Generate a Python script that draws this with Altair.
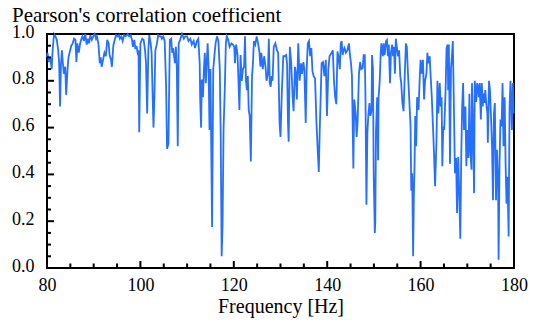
import altair as alt
import pandas as pd

TITLE = "Pearson's correlation coefficient"
X_TITLE = "Frequency [Hz]"
FONT = "Liberation Serif"
LINE_COLOR = "#2670ff"

x_ticks = [80, 100, 120, 140, 160, 180]
y_ticks = [0.0, 0.2, 0.4, 0.6, 0.8, 1.0]
x_minor = [85, 90, 95, 105, 110, 115, 125, 130, 135, 145, 150, 155, 165, 170, 175]
y_minor = [0.05, 0.1, 0.15, 0.25, 0.3, 0.35, 0.45, 0.5, 0.55, 0.65, 0.7, 0.75, 0.85, 0.9, 0.95]

# 80-100 Hz
f1 = [80.0, 80.1, 80.4, 80.7, 81.0, 81.2, 81.5, 81.8, 82.1, 82.4, 82.6, 82.8, 83.0, 83.2, 83.4, 83.6,
      83.9, 84.1, 84.4, 84.6, 84.9, 85.2, 85.5, 85.8, 86.1, 86.3, 86.5, 86.8, 87.1, 87.3, 87.6, 87.9,
      88.2, 88.5, 88.8, 89.0, 89.3, 89.6, 89.9, 90.2, 90.5, 90.7, 91.0, 91.3, 91.5, 91.7, 92.0, 92.3,
      92.6, 92.9, 93.2, 93.4, 93.7, 93.9, 94.2, 94.5, 94.8, 95.1, 95.4, 95.6, 95.9, 96.2, 96.5, 96.8,
      97.1, 97.3, 97.6, 97.9, 98.2, 98.4, 98.7, 98.9, 99.2, 99.4, 99.6, 99.75]
r1 = [0.90, 0.92, 0.88, 0.90, 0.85, 0.93, 1.0, 0.99, 0.975, 0.93, 0.875, 0.69, 0.875, 0.93, 0.875, 0.83,
      0.86, 0.74, 0.85, 0.90, 0.925, 0.95, 0.96, 0.98, 0.975, 0.88, 0.96, 0.92, 0.96, 0.975, 0.99, 0.97,
      1.0, 0.955, 0.98, 0.96, 0.995, 0.975, 0.99, 1.0, 0.98, 0.99, 0.96, 0.875, 0.90, 0.86, 0.89, 0.92,
      0.905, 0.975, 0.96, 0.91, 0.89, 0.86, 0.95, 0.975, 0.995, 0.99, 0.995, 0.98, 0.99, 0.97, 0.995, 0.99,
      0.995, 1.0, 0.99, 0.995, 0.975, 0.945, 0.975, 0.94, 0.945, 0.92, 0.93, 0.58]

# 100-120 Hz
f2 = [100.0, 100.4, 100.7, 101.0, 101.2, 101.45, 101.7, 101.9, 102.2, 102.4, 102.6, 102.8, 103.0, 103.2,
      103.5, 103.8, 104.1, 104.4, 104.6, 104.9, 105.2, 105.5, 105.7, 106.0, 106.3, 106.6, 106.8, 107.0,
      107.2, 107.4, 107.6, 107.8, 108.0, 108.2, 108.5, 108.9, 109.3, 109.6, 110.0, 110.3, 110.7, 111.0,
      111.4, 111.7, 112.1, 112.4, 112.7, 112.8, 113.0, 113.15, 113.4, 113.6, 113.8, 114.0, 114.2, 114.4,
      114.6, 114.8, 115.0, 115.15, 115.35, 115.6, 115.9, 116.1, 116.4, 116.7, 117.0, 117.2, 117.4, 117.6,
      117.8, 118.05, 118.3, 118.5, 118.8, 119.1, 119.5, 119.8]
r2 = [0.96, 0.98, 0.975, 0.93, 0.875, 0.66, 0.93, 0.995, 0.96, 0.92, 0.75, 0.60, 0.73, 0.93,
      0.955, 0.995, 0.99, 0.99, 0.98, 0.99, 0.97, 0.78, 0.51, 0.53, 0.975, 0.98, 0.92, 0.94,
      0.905, 0.875, 0.945, 0.85, 0.52, 0.96, 0.975, 1.0, 0.98, 0.99, 0.99, 0.97, 0.98, 0.955,
      0.97, 0.94, 0.97, 0.98, 0.875, 0.72, 0.60, 0.805, 0.73, 0.85, 0.92, 0.79, 0.875, 0.96,
      0.86, 0.59, 0.85, 0.555, 0.175, 0.85, 0.92, 0.96, 0.99, 0.97, 0.85, 0.56, 0.05, 0.19,
      0.59, 0.75, 0.96, 0.99, 0.975, 0.945, 0.96, 0.955]

# 120-140 Hz
f3 = [120.1, 120.25, 120.5, 120.8, 121.0, 121.2, 121.45, 121.7, 121.95, 122.2, 122.4, 122.6, 122.8, 123.0,
      123.2, 123.4, 123.65, 123.9, 124.1, 124.3, 124.6, 124.9, 125.2, 125.5, 125.7, 125.9, 126.2, 126.5,
      126.8, 127.0, 127.3, 127.5, 127.7, 127.9, 128.1, 128.3, 128.55, 128.9, 129.25, 129.5, 129.8, 130.0,
      130.3, 130.6, 130.9, 131.2, 131.4, 131.6, 131.75, 132.0, 132.3, 132.6, 132.8, 133.1, 133.3, 133.5,
      133.8, 134.1, 134.4, 134.6, 134.9, 135.1, 135.4, 135.6, 135.85, 136.1, 136.35, 136.6, 136.85, 137.1,
      137.4, 137.7, 138.0, 138.2, 138.4, 138.6, 138.8, 139.1, 139.4, 139.7, 139.95]
r3 = [0.945, 0.875, 0.955, 0.91, 0.80, 0.675, 0.91, 0.80, 0.85, 0.86, 0.99, 0.80, 0.76, 0.82,
      0.675, 0.65, 0.455, 0.82, 0.875, 0.97, 0.955, 0.99, 0.96, 0.92, 0.86, 0.92, 0.85, 0.905,
      0.86, 0.80, 0.83, 0.98, 0.79, 0.775, 0.82, 0.80, 0.945, 0.96, 0.93, 0.92, 0.62, 0.56,
      0.76, 0.905, 0.905, 0.91, 0.875, 0.62, 0.54, 0.945, 0.875, 0.73, 0.67, 0.86, 0.83, 0.72,
      0.96, 0.80, 0.875, 0.83, 0.88, 0.85, 0.62, 0.85, 0.96, 0.97, 0.905, 0.94, 0.84, 0.82,
      0.81, 0.62, 0.49, 0.41, 0.59, 0.73, 0.875, 0.88, 0.82, 0.89, 0.65]

# 140-160 Hz
f4 = [140.25, 140.5, 140.95, 141.2, 141.45, 141.7, 141.95, 142.2, 142.4, 142.7, 142.9, 143.1, 143.3, 143.5,
      143.7, 144.0, 144.3, 144.65, 144.9, 145.1, 145.3, 145.45, 145.6, 145.8, 146.1, 146.3, 146.5, 146.8,
      147.05, 147.3, 147.6, 147.8, 148.05, 148.2, 148.4, 148.6, 148.8, 149.05, 149.25, 149.5, 149.6, 149.8,
      149.95, 150.2, 150.3, 150.45, 150.7, 150.9, 151.0, 151.25, 151.45, 151.6, 151.9, 152.1, 152.3, 152.6,
      152.8, 153.0, 153.2, 153.45, 153.65, 153.9, 154.1, 154.3, 154.5, 154.7, 154.9, 155.15, 155.4, 155.65,
      155.85, 156.1, 156.35, 156.55, 156.85, 157.05, 157.3, 157.55, 157.85, 158.0, 158.2, 158.4, 158.55,
      158.7, 158.85, 159.05, 159.25, 159.55, 159.85, 160.0]
r4 = [0.85, 0.905, 0.92, 0.93, 0.80, 0.73, 0.70, 0.925, 0.905, 0.85, 0.96, 0.97, 0.91, 0.93,
      0.94, 0.92, 0.93, 0.96, 0.905, 0.875, 0.82, 0.62, 0.425, 0.72, 0.66, 0.56, 0.62, 0.83,
      0.88, 0.85, 0.855, 0.91, 0.91, 0.72, 0.27, 0.575, 0.65, 0.705, 0.65, 0.675, 0.91, 0.85,
      0.405, 0.15, 0.205, 0.59, 0.73, 0.46, 0.73, 0.80, 0.92, 0.96, 0.905, 0.96, 0.91, 0.97,
      0.975, 0.905, 0.955, 0.79, 0.92, 0.955, 0.905, 0.945, 0.83, 0.98, 0.945, 0.905, 0.93, 0.82,
      0.79, 0.705, 0.67, 0.79, 0.96, 0.945, 0.83, 0.73, 0.605, 0.33, 0.405, 0.05, 0.305,
      0.435, 0.65, 0.52, 0.73, 0.675, 0.83, 0.89]

# 160-180 Hz
f5 = [160.25, 160.5, 160.75, 160.95, 161.25, 161.45, 161.65, 161.95, 162.15, 162.4, 162.65, 162.9, 163.1,
      163.4, 163.6, 163.8, 164.1, 164.3, 164.5, 164.65, 164.85, 165.05, 165.35, 165.55, 165.8, 165.9,
      166.05, 166.3, 166.5, 166.75, 166.9, 167.1, 167.35, 167.6, 167.8, 168.05, 168.25, 168.5, 168.7,
      168.9, 169.1, 169.3, 169.6, 169.8, 170.0, 170.25, 170.45, 170.65, 170.9, 171.0, 171.25, 171.45,
      171.6, 171.9, 172.1, 172.3, 172.45, 172.65, 172.9, 173.1, 173.3, 173.5, 173.7, 173.85, 174.05,
      174.3, 174.4, 174.65, 174.85, 175.05, 175.3, 175.5, 175.7, 175.9, 176.15, 176.35, 176.6, 176.7,
      176.9, 177.1, 177.35, 177.55, 177.75, 178.0, 178.2, 178.4, 178.6, 178.85, 179.05, 179.25, 179.55,
      179.75, 179.95]
r5 = [0.83, 0.89, 0.72, 0.80, 0.83, 0.92, 0.875, 0.905, 0.82, 0.73, 0.605, 0.475, 0.35,
      0.545, 0.80, 0.66, 0.79, 0.69, 0.73, 0.435, 0.605, 0.59, 0.76, 0.94, 0.955, 0.76,
      0.955, 0.445, 0.85, 0.92, 0.97, 0.73, 0.405, 0.47, 0.235, 0.475, 0.335, 0.125, 0.475,
      0.69, 0.79, 0.59, 0.69, 0.435, 0.59, 0.47, 0.745, 0.505, 0.42, 0.79, 0.59, 0.32,
      0.80, 0.71, 0.79, 0.775, 0.73, 0.79, 0.635, 0.79, 0.69, 0.745, 0.705, 0.76, 0.705,
      0.66, 0.535, 0.80, 0.76, 0.66, 0.52, 0.29, 0.66, 0.705, 0.29, 0.505, 0.35, 0.035,
      0.445, 0.635, 0.605, 0.79, 0.52, 0.73, 0.445, 0.275, 0.39, 0.135, 0.69, 0.80, 0.59,
      0.79, 0.66]

df = pd.concat([pd.DataFrame({"freq": f, "r": r}) for f, r in
                [(f1, r1), (f2, r2), (f3, r3), (f4, r4), (f5, r5)]], ignore_index=True)

W, H = 467, 234

xs = alt.Scale(domain=[80, 180], nice=False, zero=False)
ys = alt.Scale(domain=[0, 1], nice=False, zero=False)

xaxis = alt.Axis(values=x_ticks, format="d", ticks=False, tickSize=0, domain=False, grid=False,
                 labelFont=FONT, labelFontSize=18, labelColor="black", labelPadding=8,
                 labelFlush=False, labelOverlap=False, title=X_TITLE, titleFont=FONT, titleFontSize=20,
                 titleFontWeight="normal", titleColor="black", titlePadding=2)
yaxis = alt.Axis(values=y_ticks, format=".1f", ticks=False, tickSize=0, domain=False, grid=False,
                 labelFont=FONT, labelFontSize=18, labelColor="black", labelPadding=13,
                 labelFlush=False, labelOverlap=False, labelOffset=-2, title="")

line = alt.Chart(df).mark_line(color=LINE_COLOR, strokeWidth=1.8).encode(
    x=alt.X("freq:Q", scale=xs, axis=xaxis),
    y=alt.Y("r:Q", scale=ys, axis=yaxis),
)

y_major = alt.Chart(pd.DataFrame({"r": y_ticks})).mark_tick(
    orient="horizontal", size=7, thickness=2, color="black", opacity=1
).encode(y=alt.Y("r:Q", scale=ys, axis=yaxis), x=alt.value(3.5))

y_min = alt.Chart(pd.DataFrame({"r": y_minor})).mark_tick(
    orient="horizontal", size=4, thickness=2, color="black", opacity=1
).encode(y=alt.Y("r:Q", scale=ys, axis=yaxis), x=alt.value(2))

x_major = alt.Chart(pd.DataFrame({"freq": x_ticks})).mark_tick(
    orient="vertical", size=7, thickness=2, color="black", opacity=1
).encode(x=alt.X("freq:Q", scale=xs, axis=xaxis), y=alt.value(H - 3.5))

x_min = alt.Chart(pd.DataFrame({"freq": x_minor})).mark_tick(
    orient="vertical", size=4.5, thickness=2, color="black", opacity=1
).encode(x=alt.X("freq:Q", scale=xs, axis=xaxis), y=alt.value(H - 2.25))

title = alt.Chart(pd.DataFrame({"t": [TITLE]})).mark_text(
    align="left", baseline="alphabetic", font=FONT, fontSize=21, color="black"
).encode(text="t:N", x=alt.value(-35), y=alt.value(-12))

chart = alt.layer(line, y_major, y_min, x_major, x_min, title).properties(
    width=W, height=H,
    autosize=alt.AutoSizeParams(type="none"),
    padding={"left": 39, "top": 26, "right": 14, "bottom": 50},
    background="white",
).configure_view(stroke="black", strokeWidth=2)

chart.save("out.html", embed_options={"renderer": "svg", "actions": False})
